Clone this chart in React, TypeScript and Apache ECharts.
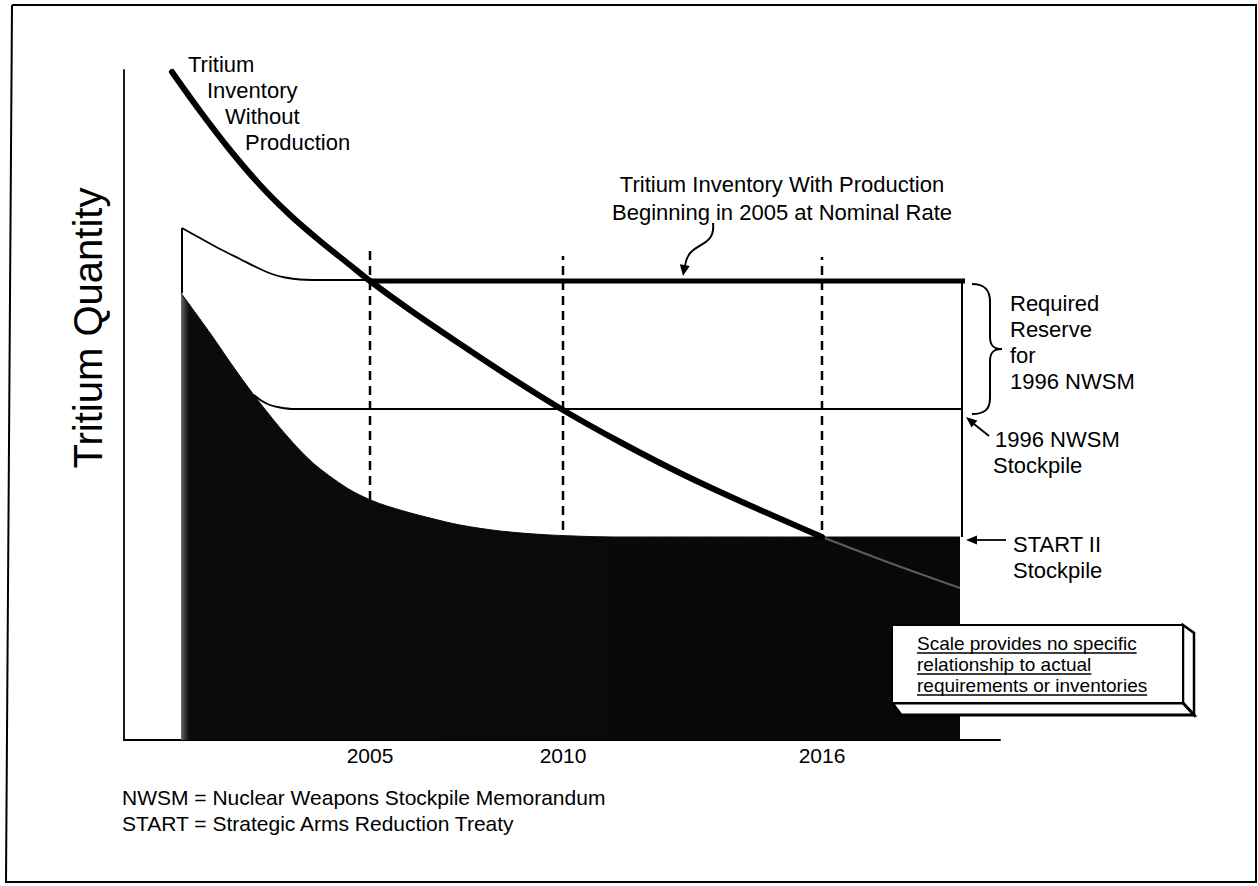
import React, { useEffect, useRef } from "react";
import * as echarts from "echarts";

const FONT = '"Liberation Sans", Arial, Helvetica, sans-serif';

// Schematic chart: x = position along the time axis (0 at the y axis), y = tritium quantity (no scale)
const yearLabels = ["2005", "2010", "2016"];
const yearPositions = [246, 439, 698];
const dashTops = [490, 484, 483];

const withoutProduction: number[][] = [
  [48, 668], [76, 629], [106, 590], [136, 555], [166, 525], [196, 499], [226, 475],
  [246, 459], [286, 430], [336, 396], [386, 363], [439, 330], [496, 298], [556, 267],
  [616, 239], [698, 203],
];
const withoutProductionBeyond: number[][] = [[698, 203], [766, 177], [836, 152]];
const withProduction: number[][] = [[246, 459], [841, 459]];
const reserveTop: number[][] = [
  [58, 512], [76, 502], [96, 491], [116, 481], [134, 472], [148, 466], [161, 462.5],
  [176, 460.5], [206, 460], [838, 460],
];
const reserveLeftEdge: number[][] = [[58, 447], [58, 512]];
const reserveRightEdge: number[][] = [[838, 460], [838, 203]];
const nwsmStockpile: number[][] = [[130, 345], [138, 339], [146, 335], [156, 332.5], [170, 331], [838, 331]];
const startIIStockpile: number[][] = [
  [57, 447], [86, 407], [113, 368], [136, 337], [163, 304], [189, 277], [223, 252],
  [249, 239], [276, 230], [306, 222], [336, 215], [376, 209], [426, 205], [496, 203], [836, 203],
];

const footerLines = [
  "NWSM = Nuclear Weapons Stockpile Memorandum",
  "START = Strategic Arms Reduction Treaty",
];
const noteLines = [
  "Scale provides no specific",
  "relationship to actual",
  "requirements or inventories",
];

function measure(text: string, font: string): number {
  const c = document.createElement("canvas").getContext("2d");
  if (!c) return text.length * 9;
  c.font = font;
  return c.measureText(text).width;
}

function head(tx: number, ty: number, fx: number, fy: number, len = 11, half = 4.5) {
  const dx = tx - fx;
  const dy = ty - fy;
  const d = Math.hypot(dx, dy);
  const ux = dx / d;
  const uy = dy / d;
  const bx = tx - ux * len;
  const by = ty - uy * len;
  return {
    type: "polygon",
    z: 20,
    shape: { points: [[tx, ty], [bx - uy * half, by + ux * half], [bx + uy * half, by - ux * half]] },
    style: { fill: "#000" },
  };
}

function txt(text: string, x: number, y: number, size = 22, align = "left", extra: any = {}) {
  return {
    type: "text",
    z: 20,
    x,
    y,
    ...extra,
    style: {
      text,
      font: `${size}px ${FONT}`,
      fill: "#000",
      align,
      verticalAlign: "middle",
    },
  };
}

function line(x1: number, y1: number, x2: number, y2: number, w = 2) {
  return {
    type: "line",
    z: 20,
    shape: { x1, y1, x2, y2 },
    style: { stroke: "#000", lineWidth: w },
  };
}

function bez(x1: number, y1: number, c1x: number, c1y: number, c2x: number, c2y: number, x2: number, y2: number, w = 2) {
  return {
    type: "bezierCurve",
    z: 20,
    shape: { x1, y1, cpx1: c1x, cpy1: c1y, cpx2: c2x, cpy2: c2y, x2, y2 },
    style: { stroke: "#000", lineWidth: w, fill: null },
  };
}

export default function App() {
  const ref = useRef<HTMLDivElement>(null);

  useEffect(() => {
    if (!ref.current) return;
    const chart = echarts.init(ref.current, null, { renderer: "svg" });

    const noteFont = `19px ${FONT}`;
    const noteY = [643, 664, 685];
    const noteX = 917;

    const graphic: any[] = [
      // outer frame
      {
        type: "polyline",
        z: 20,
        shape: { points: [[12, 5], [1256, 5], [1256, 882], [6, 882], [12, 5]] },
        style: { stroke: "#000", lineWidth: 2, fill: null },
      },
      // y axis title
      txt("Tritium Quantity", 88, 328, 40, "center", { rotation: Math.PI / 2 }),
      // without production label
      txt("Tritium", 188, 64),
      txt("Inventory", 207, 90),
      txt("Without", 225, 116),
      txt("Production", 245, 142),
      // with production label
      txt("Tritium Inventory With Production", 782, 184, 22, "center"),
      txt("Beginning in 2005 at Nominal Rate", 782, 212, 22, "center"),
      bez(713, 223, 716, 250, 688, 240, 685, 266, 2),
      head(683, 276, 685, 264, 11, 5),
      // brace
      bez(972, 284, 985, 284, 990, 290, 990, 302, 2),
      line(990, 302, 990, 337, 2),
      bez(990, 337, 990, 346, 994, 349, 1002, 349, 2),
      bez(1002, 349, 994, 349, 990, 352, 990, 361, 2),
      line(990, 361, 990, 398, 2),
      bez(990, 398, 990, 409, 985, 414, 972, 414, 2),
      txt("Required", 1010, 303),
      txt("Reserve", 1010, 329),
      txt("for", 1010, 355),
      txt("1996 NWSM", 1010, 381),
      // 1996 NWSM stockpile arrow
      line(989, 436, 974, 424, 1.8),
      head(966, 417, 989, 436, 11, 4.5),
      txt("1996 NWSM", 995, 439),
      txt("Stockpile", 993, 465),
      // START II arrow
      line(1006, 540, 976, 540, 1.8),
      head(966, 540, 1006, 540, 11, 4.5),
      txt("START II", 1013, 544),
      txt("Stockpile", 1013, 570),
      // note box (3D)
      {
        type: "polygon",
        z: 18,
        shape: { points: [[1183, 625], [1194, 633], [1194, 715], [1183, 703]] },
        style: { fill: "#fff", stroke: "#000", lineWidth: 2.5 },
      },
      {
        type: "polygon",
        z: 18,
        shape: { points: [[892, 703], [1183, 703], [1194, 715], [901, 715]] },
        style: { fill: "#fff", stroke: "#000", lineWidth: 3 },
      },
      {
        type: "rect",
        z: 19,
        shape: { x: 892, y: 625, width: 291, height: 78 },
        style: { fill: "#fff", stroke: "#000", lineWidth: 2 },
      },
      ...noteLines.map((t, i) => txt(t, noteX, noteY[i], 19)),
      ...noteLines.map((t, i) => {
        const w = measure(t, noteFont);
        return line(noteX, noteY[i] + 10, noteX + w, noteY[i] + 10, 1.5);
      }),
      // footer
      ...footerLines.map((t, i) => txt(t, 122, [797, 823][i], 21)),
    ];

    const dashSeries = yearPositions.map((x, i) => ({
      type: "line",
      z: 1,
      data: [[x, 0], [x, dashTops[i]]],
      symbol: "none",
      silent: true,
      lineStyle: { color: "#000", width: 2.5, type: [9, 6] },
    }));

    const option: any = {
      animation: false,
      backgroundColor: "#fff",
      grid: { left: 124, top: 70, width: 876, height: 670 },
      xAxis: {
        type: "value",
        min: 0,
        max: 876,
        axisLine: { show: true, lineStyle: { color: "#000", width: 2 } },
        axisTick: { show: false },
        splitLine: { show: false },
        axisLabel: {
          customValues: yearPositions,
          formatter: (v: number) => {
            const i = yearPositions.indexOf(v);
            return i >= 0 ? yearLabels[i] : "";
          },
          color: "#000",
          fontSize: 21,
          fontFamily: FONT,
          margin: 5,
        },
      },
      yAxis: {
        type: "value",
        min: 0,
        max: 670,
        axisLine: { show: true, lineStyle: { color: "#000", width: 1.8 } },
        axisTick: { show: false },
        axisLabel: { show: false },
        splitLine: { show: false },
      },
      series: [
        ...dashSeries,
        {
          name: "START II Stockpile",
          type: "line",
          z: 2,
          data: startIIStockpile,
          symbol: "none",
          smooth: 0.3,
          lineStyle: { width: 1, color: "#0b0b0b" },
          areaStyle: {
            opacity: 1,
            color: new echarts.graphic.LinearGradient(0, 0, 1, 0, [
              { offset: 0, color: "#6a6a6a" },
              { offset: 0.006, color: "#2e2e2e" },
              { offset: 0.011, color: "#0b0b0b" },
              { offset: 1, color: "#080808" },
            ]),
          },
        },
        {
          name: "Tritium Inventory Without Production (beyond 2016)",
          type: "line",
          z: 3,
          data: withoutProductionBeyond,
          symbol: "none",
          smooth: 0.3,
          lineStyle: { width: 2, color: "#5c5c5c" },
        },
        {
          name: "Required Reserve",
          type: "line",
          z: 3,
          data: reserveTop,
          symbol: "none",
          smooth: 0.3,
          lineStyle: { width: 1.8, color: "#000" },
        },
        {
          type: "line",
          z: 3,
          data: reserveLeftEdge,
          symbol: "none",
          lineStyle: { width: 2, color: "#000" },
        },
        {
          type: "line",
          z: 3,
          data: reserveRightEdge,
          symbol: "none",
          lineStyle: { width: 2, color: "#000" },
        },
        {
          name: "1996 NWSM Stockpile",
          type: "line",
          z: 3,
          data: nwsmStockpile,
          symbol: "none",
          smooth: 0.3,
          lineStyle: { width: 1.8, color: "#000" },
        },
        {
          name: "Tritium Inventory With Production",
          type: "line",
          z: 4,
          data: withProduction,
          symbol: "none",
          lineStyle: { width: 5, color: "#000" },
        },
        {
          name: "Tritium Inventory Without Production",
          type: "line",
          z: 5,
          data: withoutProduction,
          symbol: "none",
          smooth: 0.3,
          lineStyle: { width: 6, color: "#000", cap: "round" },
        },
      ],
      graphic,
    };

    chart.setOption(option);
    return () => chart.dispose();
  }, []);

  return (
    <div
      ref={ref}
      style={{ position: "fixed", left: 0, top: 0, width: 1258, height: 886, background: "#fff" }}
    />
  );
}
